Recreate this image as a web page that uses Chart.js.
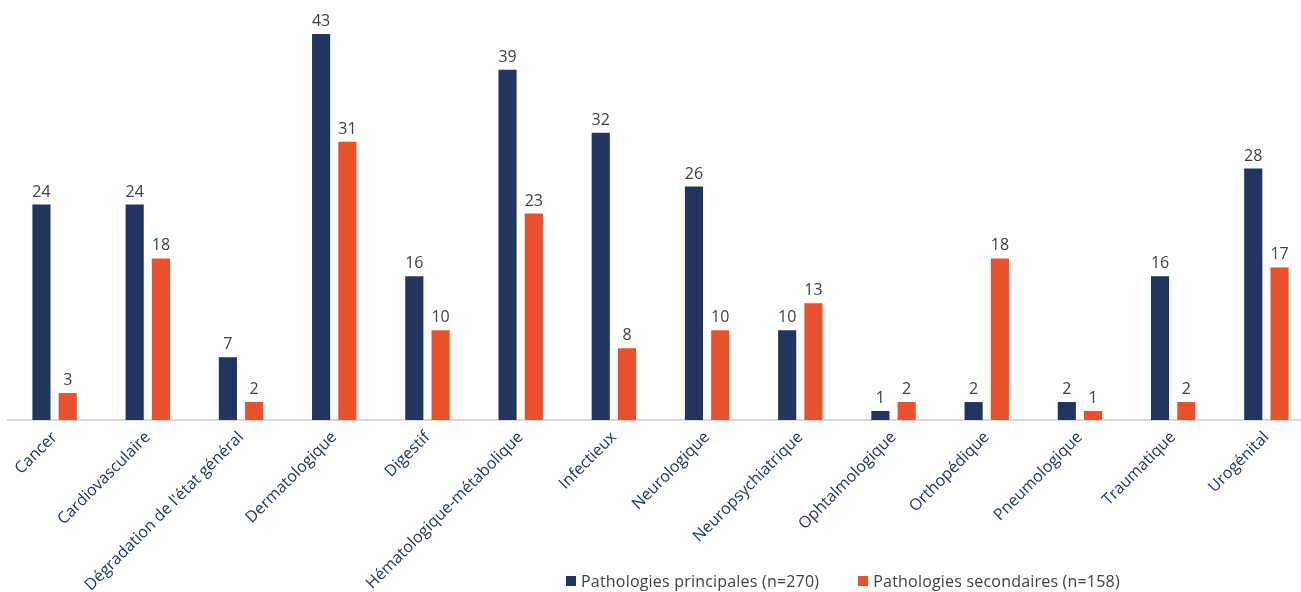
<!DOCTYPE html>
<html lang="fr">
<head>
<meta charset="utf-8">
<title>Pathologies principales et secondaires</title>
<script src="https://cdn.jsdelivr.net/npm/chart.js@4.4.1/dist/chart.umd.min.js"></script>
<style>
  html, body { margin: 0; padding: 0; background: #ffffff; overflow: hidden; }
  #wrap { position: absolute; left: 0; top: 0; width: 1313px; height: 592px; }
  #legend {
    position: absolute; top: 570px; left: 566px;
    font-family: "Open Sans", sans-serif; font-size: 16px; letter-spacing: 0.2px; color: #404040;
    display: flex; align-items: center; white-space: nowrap;
  }
  #legend .item { display: flex; align-items: center; }
  #legend .item + .item { margin-left: 39px; }
  #legend .sw { width: 10px; height: 10px; margin-right: 5px; }
</style>
</head>
<body>
<div id="wrap"><canvas id="chart"></canvas></div>
<div id="legend"></div>
<script>
// Catégories de pathologies
const categories = [
  "Cancer", "Cardiovasculaire", "Dégradation de l'état général", "Dermatologique",
  "Digestif", "Hématologique-métabolique", "Infectieux", "Neurologique",
  "Neuropsychiatrique", "Ophtalmologique", "Orthopédique", "Pneumologique",
  "Traumatique", "Urogénital"
];

// Nombre de pathologies principales (n=270)
const principales = [24, 24, 7, 43, 16, 39, 32, 26, 10, 1, 2, 2, 16, 28];

// Nombre de pathologies secondaires (n=158)
const secondaires = [3, 18, 2, 31, 10, 23, 8, 10, 13, 2, 18, 1, 2, 17];

const seriesNames = ["Pathologies principales (n=270)", "Pathologies secondaires (n=158)"];
const seriesColors = ["#21355f", "#e9502c"];

// Valeurs affichées au-dessus de chaque barre
const valueLabels = {
  id: "valueLabels",
  afterDatasetsDraw(chart) {
    const ctx = chart.ctx;
    ctx.save();
    ctx.font = '16px "Open Sans", sans-serif';
    ctx.fillStyle = "#404040";
    ctx.textAlign = "center";
    ctx.textBaseline = "alphabetic";
    chart.data.datasets.forEach((ds, i) => {
      const meta = chart.getDatasetMeta(i);
      meta.data.forEach((bar, j) => {
        ctx.fillText(String(ds.data[j]), bar.x, bar.y - 8);
      });
    });
    ctx.restore();
  }
};

new Chart(document.getElementById("chart"), {
  type: "bar",
  data: {
    labels: categories,
    datasets: [
      { label: seriesNames[0], data: principales, backgroundColor: seriesColors[0] },
      { label: seriesNames[1], data: secondaires, backgroundColor: seriesColors[1] }
    ]
  },
  options: {
    responsive: true,
    maintainAspectRatio: false,
    animation: false,
    layout: { padding: { left: 8, right: 0, top: 16, bottom: 0 } },
    categoryPercentage: 0.564,
    barPercentage: 0.69,
    plugins: { legend: { display: false }, tooltip: { enabled: false } },
    scales: {
      x: {
        grid: { display: false, drawTicks: false },
        border: { display: true, color: "#d9d9d9", width: 2 },
        ticks: {
          color: "#21355f",
          font: { family: "Open Sans", size: 16 },
          minRotation: 45, maxRotation: 45,
          padding: 8,
          autoSkip: false
        },
        afterFit(scale) { scale.height = 172; }
      },
      y: {
        display: false,
        min: 0, max: 45
      }
    }
  },
  plugins: [valueLabels]
});

// Légende
const legend = document.getElementById("legend");
seriesNames.forEach((name, i) => {
  const item = document.createElement("div");
  item.className = "item";
  const sw = document.createElement("span");
  sw.className = "sw";
  sw.style.background = seriesColors[i];
  const txt = document.createElement("span");
  txt.textContent = name;
  item.appendChild(sw);
  item.appendChild(txt);
  legend.appendChild(item);
});
</script>
</body>
</html>
